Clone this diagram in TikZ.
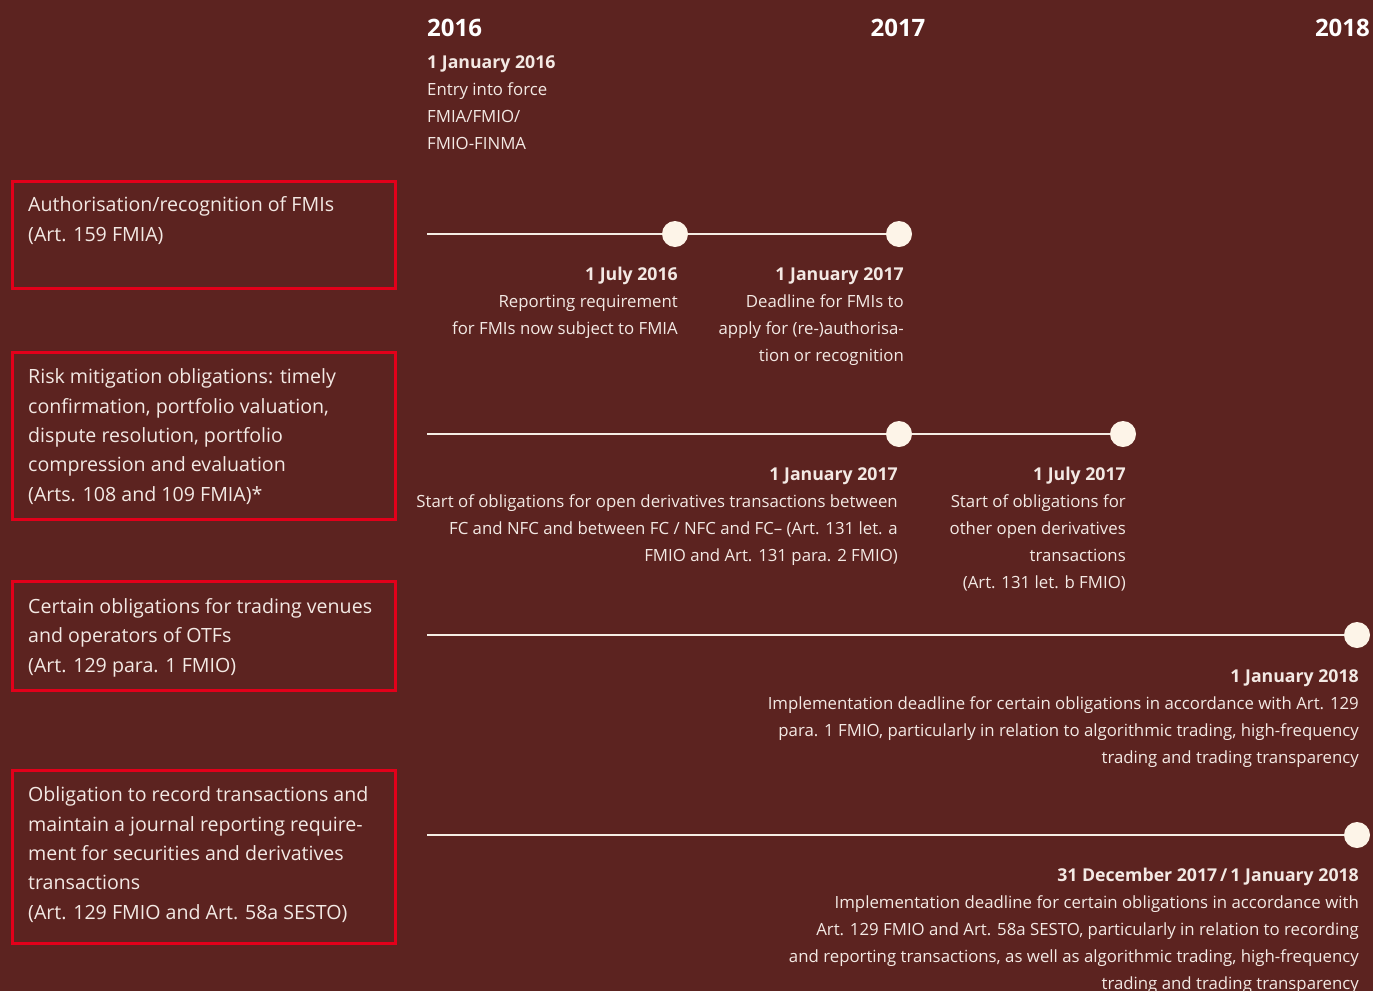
\documentclass[tikz,border=0pt]{standalone}
\usepackage{fontspec}
\setmainfont{Open Sans}
\definecolor{bg}{HTML}{5C2320}
\definecolor{boxred}{HTML}{E2001A}
\definecolor{dotc}{HTML}{FDF4E8}
\definecolor{linec}{HTML}{F5EDE4}
\definecolor{txt}{HTML}{F3E9E4}
\newcommand{\hd}[1]{{\fontsize{17.7}{26.8}\selectfont\bfseries #1}}
\begin{document}
\begin{tikzpicture}[x=1pt,y=-1pt,
  year/.style={font=\fontsize{24}{28}\selectfont\bfseries, text=white, inner sep=0},
  tl/.style={font=\fontsize{16.8}{26.8}\selectfont, text=txt, align=right, inner sep=0, anchor=base east},
  tlleft/.style={font=\fontsize{16.8}{26.8}\selectfont, text=txt, align=left, inner sep=0, anchor=base west},
  box/.style={draw=boxred, line width=3pt, minimum width=383pt, anchor=north west, inner sep=0},
  bt/.style={font=\fontsize{19.6}{29.3}\selectfont, text=txt, align=left, inner sep=0, anchor=base west},
  dot/.style={circle, fill=dotc, minimum size=26pt, inner sep=0},
  tline/.style={draw=linec, line width=2.5pt}]
\fill[bg] (0,0) rectangle (1373,991);
\useasboundingbox (0,0) rectangle (1373,991);

% years
\node[year, anchor=base west] (y16) at (427,36) {2016};
\node[year, anchor=base] (y17) at (898,36) {2017};
\node[year, anchor=base east] (y18) at (1370,36) {2018};

% (base anchor = baseline of the last line)
\node[tlleft] (entry) at (427,149) {\hd{1 January 2016}\\Entry into force\\FMIA/FMIO/\\FMIO-FINMA};

% boxes
\node[box, minimum height=107pt] (b1) at (11,180) {};
\node[box, minimum height=167pt] (b2) at (11,351) {};
\node[box, minimum height=109pt] (b3) at (11,580) {};
\node[box, minimum height=173pt] (b4) at (11,769) {};

\node[bt] (t1) at (28,241) {Authorisation/recognition of FMIs\\(Art. 159 FMIA)};
\node[bt] (t2) at (28,501) {Risk mitigation obligations: timely\\confirmation, portfolio valuation,\\dispute resolution, portfolio\\compression and evaluation\\(Arts. 108 and 109 FMIA)*};
\node[bt] (t3) at (28,672) {Certain obligations for trading venues\\and operators of OTFs\\(Art. 129 para. 1 FMIO)};
\node[bt] (t4) at (28,919) {Obligation to record transactions and\\maintain a journal reporting require-\\ment for securities and derivatives\\transactions\\(Art. 129 FMIO and Art. 58a SESTO)};

% timelines
\coordinate (s1) at (427,234);
\coordinate (s2) at (427,434);
\coordinate (s3) at (427,635);
\coordinate (s4) at (427,835);
\node[dot] (d11) at (675,234) {};
\node[dot] (d12) at (899,234) {};
\node[dot] (d21) at (899,434) {};
\node[dot] (d22) at (1123,434) {};
\node[dot] (d3) at (1357,635) {};
\node[dot] (d4) at (1357,835) {};
\draw[tline] (s1) -- (d11) (d11) -- (d12);
\draw[tline] (s2) -- (d21) (d21) -- (d22);
\draw[tline] (s3) -- (d3);
\draw[tline] (s4) -- (d4);

% labels
\node[tl] (l11) at (678,334) {\hd{1 July 2016}\\Reporting requirement\\for FMIs now subject to FMIA};
\node[tl] (l12) at (904,361) {\hd{1 January 2017}\\Deadline for FMIs to\\apply for (re-)authorisa-\\tion or recognition};
\node[tl] (l21) at (898,561) {\hd{1 January 2017}\\Start of obligations for open derivatives transactions between\\FC and NFC and between FC / NFC and FC-- (Art. 131 let. a\\FMIO and Art. 131 para. 2 FMIO)};
\node[tl] (l22) at (1126,588) {\hd{1 July 2017}\\Start of obligations for\\other open derivatives\\transactions\\(Art. 131 let. b FMIO)};
\node[tl] (l3) at (1359,763) {\hd{1 January 2018}\\Implementation deadline for certain obligations in accordance with Art. 129\\para. 1 FMIO, particularly in relation to algorithmic trading, high-frequency\\trading and trading transparency};
\node[tl] (l4) at (1359,989) {\hd{31 December 2017\,/\,1 January 2018}\\Implementation deadline for certain obligations in accordance with\\Art. 129 FMIO and Art. 58a SESTO, particularly in relation to recording\\and reporting transactions, as well as algorithmic trading, high-frequency\\trading and trading transparency};
\end{tikzpicture}
\end{document}
